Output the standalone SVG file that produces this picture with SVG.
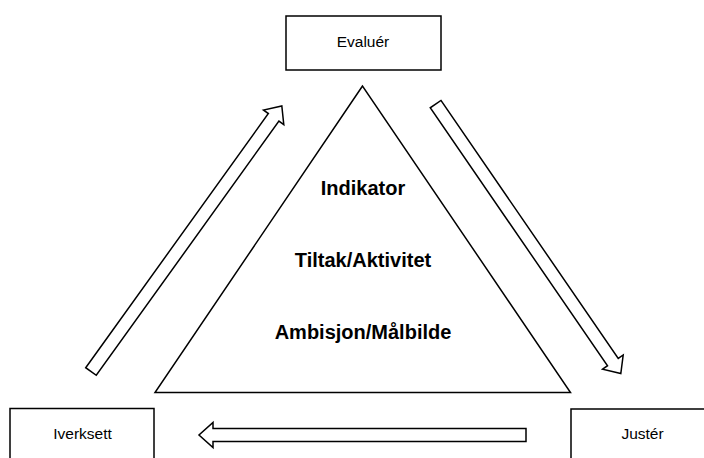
<svg xmlns="http://www.w3.org/2000/svg" width="704" height="458" viewBox="0 0 704 458">
  <style>
    .box { fill: #ffffff; stroke: #000000; stroke-width: 1.5; }
    .tri { fill: #ffffff; stroke: #000000; stroke-width: 1.5; stroke-linejoin: miter; }
    .label { font-family: "Liberation Sans", Arial, sans-serif; font-size: 15.5px; fill: #000000; text-anchor: middle; }
    .level { font-family: "Liberation Sans", Arial, sans-serif; font-size: 20px; font-weight: bold; fill: #000000; text-anchor: middle; }
    .flow { fill: #ffffff; stroke: #000000; stroke-width: 1.5; stroke-linejoin: miter; }
  </style>
  <defs>
    <!-- Block arrow pointing along +x, tail at x=0, tip at x=327 -->
    <path id="blockArrow" d="M0,-6.5 L313,-6.5 L313,-12.5 L327,0 L313,12.5 L313,6.5 L0,6.5 Z"/>
  </defs>
  <rect width="704" height="458" fill="#ffffff"/>

  <g id="pyramid">
    <polygon class="tri" points="362.5,86 155,392.5 570.5,392.5"/>
    <text class="level" x="363" y="195">Indikator</text>
    <text class="level" x="363" y="267">Tiltak/Aktivitet</text>
    <text class="level" x="363" y="339">Ambisjon/Målbilde</text>
  </g>

  <g id="evaluer">
    <rect class="box" x="286" y="16" width="155" height="54"/>
    <text class="label" x="363" y="47">Evaluér</text>
  </g>

  <g id="iverksett">
    <rect class="box" x="10" y="408.5" width="144" height="60"/>
    <text class="label" x="82.5" y="439">Iverksett</text>
  </g>

  <g id="juster">
    <rect class="box" x="571" y="409" width="144" height="60"/>
    <text class="label" x="642.5" y="439">Justér</text>
  </g>

  <g id="connectors">
    <!-- Iverksett to Evaluér -->
    <use href="#blockArrow" class="flow" transform="translate(91,371.5) rotate(-54.3)"/>
    <!-- Evaluér to Justér -->
    <use href="#blockArrow" class="flow" transform="translate(435.6,104.1) rotate(55.5)"/>
    <!-- Justér to Iverksett -->
    <use href="#blockArrow" class="flow" transform="translate(526,435) rotate(180)"/>
  </g>
</svg>
